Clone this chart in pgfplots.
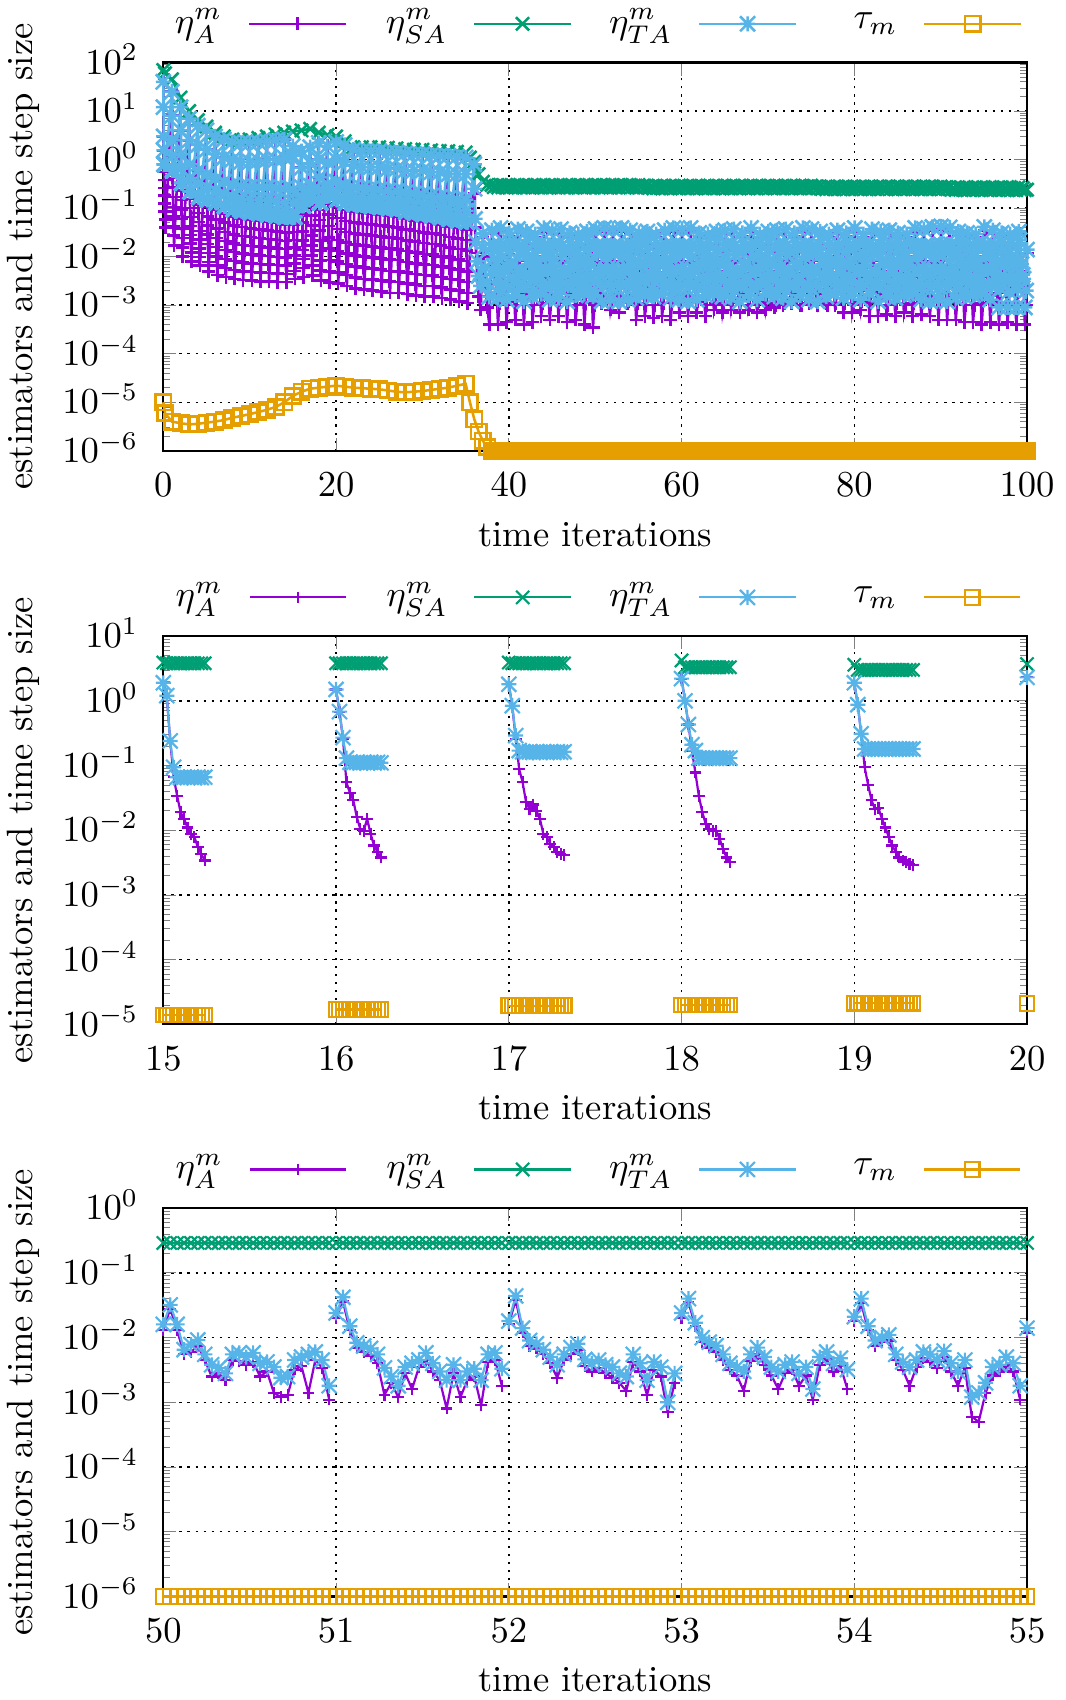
\documentclass[border=0pt]{standalone}
\usepackage{pgfplots}
\usepackage{pgfplotstable}
\pgfplotsset{compat=1.18}
\definecolor{cA}{HTML}{9400D3}
\definecolor{cSA}{HTML}{009E73}
\definecolor{cTA}{HTML}{56B4E9}
\definecolor{cT}{HTML}{E69F00}
\pgfdeclareplotmark{gpx}{%
  \pgfpathmoveto{\pgfqpoint{-\pgfplotmarksize}{-\pgfplotmarksize}}%
  \pgfpathlineto{\pgfqpoint{\pgfplotmarksize}{\pgfplotmarksize}}%
  \pgfpathmoveto{\pgfqpoint{-\pgfplotmarksize}{\pgfplotmarksize}}%
  \pgfpathlineto{\pgfqpoint{\pgfplotmarksize}{-\pgfplotmarksize}}%
  \pgfusepathqstroke}
\pgfdeclareplotmark{gpstar}{%
  \pgfpathmoveto{\pgfqpoint{-\pgfplotmarksize}{-\pgfplotmarksize}}%
  \pgfpathlineto{\pgfqpoint{\pgfplotmarksize}{\pgfplotmarksize}}%
  \pgfpathmoveto{\pgfqpoint{-\pgfplotmarksize}{\pgfplotmarksize}}%
  \pgfpathlineto{\pgfqpoint{\pgfplotmarksize}{-\pgfplotmarksize}}%
  \pgfpathmoveto{\pgfqpoint{-\pgfplotmarksize}{0pt}}%
  \pgfpathlineto{\pgfqpoint{\pgfplotmarksize}{0pt}}%
  \pgfpathmoveto{\pgfqpoint{0pt}{-\pgfplotmarksize}}%
  \pgfpathlineto{\pgfqpoint{0pt}{\pgfplotmarksize}}%
  \pgfusepathqstroke}

% panel 1: estimators A and TA (x A TA)
\pgfplotstableread{
x A TA
0 40 40
0.02 12 12
0.04 3 3
0.06 1.55 1.55
0.08 0.56 0.8
0.1 0.38 0.8
0.12 0.26 0.8
0.14 0.18 0.8
0.16 0.124 0.8
0.19 0.085 0.8
0.22 0.058 0.8
0.25 0.04 0.8
1 25 25
1.02 8 8
1.04 2.5 2.5
1.06 1.22 1.22
1.08 0.42 0.6
1.1 0.265 0.6
1.12 0.168 0.6
1.14 0.106 0.6
1.16 0.067 0.6
1.19 0.042 0.6
1.22 0.027 0.6
1.25 0.017 0.6
2 12 12
2.02 4 4
2.04 1.3 1.3
2.06 0.65 0.65
2.08 0.23 0.33
2.1 0.147 0.33
2.12 0.094 0.33
2.14 0.06 0.33
2.16 0.038 0.33
2.19 0.024 0.33
2.22 0.0156 0.33
2.25 0.01 0.33
3 7 7
3.02 2.5 2.5
3.04 0.8 0.8
3.06 0.42 0.42
3.08 0.154 0.22
3.1 0.1 0.22
3.12 0.066 0.22
3.14 0.043 0.22
3.16 0.028 0.22
3.19 0.0185 0.22
3.22 0.0121 0.22
3.25 0.008 0.22
4 5 5
4.02 2 2
4.04 0.6 0.6
4.06 0.32 0.32
4.08 0.119 0.17
4.1 0.079 0.17
4.12 0.052 0.17
4.14 0.034 0.17
4.16 0.0226 0.17
4.19 0.0149 0.17
4.22 0.0098 0.17
4.25 0.0065 0.17
5 4 4
5.02 1.6 1.6
5.04 0.5 0.5
5.06 0.27 0.27
5.08 0.105 0.15
5.1 0.068 0.15
5.12 0.044 0.15
5.14 0.0285 0.15
5.16 0.0184 0.15
5.19 0.0119 0.15
5.22 0.0077 0.15
5.25 0.005 0.15
6 3 3
6.02 1.3 1.3
6.04 0.4 0.4
6.06 0.23 0.23
6.08 0.091 0.13
6.1 0.059 0.13
6.12 0.038 0.13
6.14 0.0244 0.13
6.16 0.0157 0.13
6.19 0.0101 0.13
6.22 0.0065 0.13
6.25 0.0042 0.13
7 2.6 2.6
7.02 1.1 1.1
7.04 0.35 0.35
7.06 0.2 0.2
7.08 0.077 0.11
7.1 0.05 0.11
7.12 0.0325 0.11
7.14 0.0211 0.11
7.16 0.0137 0.11
7.19 0.0089 0.11
7.22 0.0058 0.11
7.25 0.0038 0.11
8 2.3 2.3
8.02 1 1
8.04 0.3 0.3
8.06 0.17 0.17
8.08 0.0665 0.095
8.1 0.0437 0.095
8.12 0.0287 0.095
8.14 0.0189 0.095
8.16 0.0124 0.095
8.19 0.0081 0.095
8.22 0.0053 0.095
8.25 0.0035 0.095
9 2.2 2.2
9.02 0.9 0.9
9.04 0.28 0.28
9.06 0.157 0.157
9.08 0.0616 0.088
9.1 0.0405 0.088
9.12 0.0267 0.088
9.14 0.0175 0.088
9.16 0.0115 0.088
9.19 0.0076 0.088
9.22 0.005 0.088
9.25 0.0033 0.088
10 2.2 2.2
10.02 0.9 0.9
10.04 0.27 0.27
10.06 0.149 0.149
10.08 0.0574 0.082
10.1 0.038 0.082
10.12 0.0252 0.082
10.14 0.0167 0.082
10.16 0.011 0.082
10.19 0.0073 0.082
10.22 0.0048 0.082
10.25 0.0032 0.082
11 2.3 2.3
11.02 0.95 0.95
11.04 0.27 0.27
11.06 0.145 0.145
11.08 0.0546 0.078
11.1 0.0363 0.078
11.12 0.0241 0.078
11.14 0.016 0.078
11.16 0.0106 0.078
11.19 0.007 0.078
11.22 0.0047 0.078
11.25 0.0031 0.078
12 2.4 2.4
12.02 1 1
12.04 0.27 0.27
12.06 0.141 0.141
12.08 0.0518 0.074
12.1 0.0346 0.074
12.12 0.0231 0.074
12.14 0.0154 0.074
12.16 0.0103 0.074
12.19 0.0069 0.074
12.22 0.0046 0.074
12.25 0.0031 0.074
13 2.5 2.5
13.02 1 1
13.04 0.26 0.26
13.06 0.135 0.135
13.08 0.049 0.07
13.1 0.0329 0.07
13.12 0.0221 0.07
13.14 0.0148 0.07
13.16 0.0099 0.07
13.19 0.0067 0.07
13.22 0.0045 0.07
13.25 0.003 0.07
14 2.6 2.6
14.02 1.1 1.1
14.04 0.25 0.25
14.06 0.128 0.128
14.08 0.0462 0.066
14.1 0.0313 0.066
14.12 0.0212 0.066
14.14 0.0143 0.066
14.16 0.0097 0.066
14.19 0.0066 0.066
14.22 0.0044 0.066
14.25 0.003 0.066
15 1.9 1.9
15.02 1.2 1.2
15.04 0.24 0.24
15.06 0.126 0.126
15.08 0.0462 0.066
15.1 0.032 0.066
15.12 0.0221 0.066
15.14 0.0153 0.066
15.16 0.0106 0.066
15.19 0.0073 0.066
15.22 0.0051 0.066
15.25 0.0035 0.066
16 1.5 1.5
16.02 0.68 0.68
16.04 0.27 0.27
16.06 0.174 0.174
16.08 0.078 0.112
16.1 0.0507 0.112
16.12 0.0329 0.112
16.14 0.0213 0.112
16.16 0.0138 0.112
16.19 0.009 0.112
16.22 0.0058 0.112
16.25 0.0038 0.112
17 1.8 1.8
17.02 0.84 0.84
17.04 0.29 0.29
17.06 0.217 0.217
17.08 0.114 0.163
17.1 0.071 0.163
17.12 0.044 0.163
17.14 0.0274 0.163
17.16 0.017 0.163
17.19 0.0106 0.163
17.22 0.0066 0.163
17.25 0.0041 0.163
18 2.2 2.2
18.02 1 1
18.04 0.43 0.43
18.06 0.236 0.236
18.08 0.091 0.13
18.1 0.0564 0.13
18.12 0.035 0.13
18.14 0.0217 0.13
18.16 0.0134 0.13
18.19 0.0083 0.13
18.22 0.0052 0.13
18.25 0.0032 0.13
19 1.9 1.9
19.02 0.87 0.87
19.04 0.31 0.31
19.06 0.236 0.236
19.08 0.126 0.18
19.1 0.0735 0.18
19.12 0.0429 0.18
19.14 0.025 0.18
19.16 0.0146 0.18
19.19 0.0085 0.18
19.22 0.005 0.18
19.25 0.0029 0.18
20 2.3 2.3
20.02 1 1
20.04 0.35 0.35
20.06 0.23 0.23
20.08 0.105 0.15
20.1 0.0626 0.15
20.12 0.0373 0.15
20.14 0.0222 0.15
20.16 0.0132 0.15
20.19 0.0079 0.15
20.22 0.0047 0.15
20.25 0.0028 0.15
21 2 2
21.02 0.9 0.9
21.04 0.3 0.3
21.06 0.197 0.197
21.08 0.091 0.13
21.1 0.0544 0.13
21.12 0.0325 0.13
21.14 0.0195 0.13
21.16 0.0116 0.13
21.19 0.007 0.13
21.22 0.0042 0.13
21.25 0.0025 0.13
22 1.6 1.6
22.02 0.75 0.75
22.04 0.27 0.27
22.06 0.18 0.18
22.08 0.084 0.12
22.1 0.05 0.12
22.12 0.0297 0.12
22.14 0.0176 0.12
22.16 0.0105 0.12
22.19 0.0062 0.12
22.22 0.0037 0.12
22.25 0.0022 0.12
23 1.5 1.5
23.02 0.7 0.7
23.04 0.26 0.26
23.06 0.173 0.173
23.08 0.0805 0.115
23.1 0.0478 0.115
23.12 0.0284 0.115
23.14 0.0169 0.115
23.16 0.01 0.115
23.19 0.006 0.115
23.22 0.0035 0.115
23.25 0.0021 0.115
24 1.5 1.5
24.02 0.7 0.7
24.04 0.25 0.25
24.06 0.166 0.166
24.08 0.077 0.11
24.1 0.0457 0.11
24.12 0.0272 0.11
24.14 0.0161 0.11
24.16 0.0096 0.11
24.19 0.0057 0.11
24.22 0.0034 0.11
24.25 0.002 0.11
25 1.5 1.5
25.02 0.7 0.7
25.04 0.24 0.24
25.06 0.159 0.159
25.08 0.0735 0.105
25.1 0.0437 0.105
25.12 0.026 0.105
25.14 0.0154 0.105
25.16 0.0092 0.105
25.19 0.0054 0.105
25.22 0.0032 0.105
25.25 0.0019 0.105
26 1.4 1.4
26.02 0.65 0.65
26.04 0.23 0.23
26.06 0.152 0.152
26.08 0.07 0.1
26.1 0.0415 0.1
26.12 0.0246 0.1
26.14 0.0146 0.1
26.16 0.0087 0.1
26.19 0.0051 0.1
26.22 0.0031 0.1
26.25 0.0018 0.1
27 1.4 1.4
27.02 0.65 0.65
27.04 0.22 0.22
27.06 0.145 0.145
27.08 0.0665 0.095
27.1 0.0397 0.095
27.12 0.0237 0.095
27.14 0.0142 0.095
27.16 0.0085 0.095
27.19 0.005 0.095
27.22 0.003 0.095
27.25 0.0018 0.095
28 1.35 1.35
28.02 0.6 0.6
28.04 0.21 0.21
28.06 0.134 0.134
28.08 0.0595 0.085
28.1 0.0358 0.085
28.12 0.0215 0.085
28.14 0.013 0.085
28.16 0.0078 0.085
28.19 0.0047 0.085
28.22 0.0028 0.085
28.25 0.0017 0.085
29 1.3 1.3
29.02 0.6 0.6
29.04 0.2 0.2
29.06 0.126 0.126
29.08 0.056 0.08
29.1 0.0337 0.08
29.12 0.0203 0.08
29.14 0.0122 0.08
29.16 0.0073 0.08
29.19 0.0044 0.08
29.22 0.0027 0.08
29.25 0.0016 0.08
30 1.3 1.3
30.02 0.6 0.6
30.04 0.19 0.19
30.06 0.119 0.119
30.08 0.0525 0.075
30.1 0.0316 0.075
30.12 0.019 0.075
30.14 0.0114 0.075
30.16 0.0069 0.075
30.19 0.0042 0.075
30.22 0.0025 0.075
30.25 0.0015 0.075
31 1.25 1.25
31.02 0.55 0.55
31.04 0.18 0.18
31.06 0.112 0.112
31.08 0.049 0.07
31.1 0.0298 0.07
31.12 0.0181 0.07
31.14 0.011 0.07
31.16 0.0067 0.07
31.19 0.0041 0.07
31.22 0.0025 0.07
31.25 0.0015 0.07
32 1.2 1.2
32.02 0.55 0.55
32.04 0.17 0.17
32.06 0.105 0.105
32.08 0.0455 0.065
32.1 0.0277 0.065
32.12 0.0168 0.065
32.14 0.0102 0.065
32.16 0.0062 0.065
32.19 0.0038 0.065
32.22 0.0023 0.065
32.25 0.0014 0.065
33 1.2 1.2
33.02 0.5 0.5
33.04 0.16 0.16
33.06 0.098 0.098
33.08 0.042 0.06
33.1 0.0256 0.06
33.12 0.0156 0.06
33.14 0.0095 0.06
33.16 0.0058 0.06
33.19 0.0035 0.06
33.22 0.0021 0.06
33.25 0.0013 0.06
34 1.15 1.15
34.02 0.5 0.5
34.04 0.15 0.15
34.06 0.092 0.092
34.08 0.0392 0.056
34.1 0.0238 0.056
34.12 0.0145 0.056
34.14 0.0088 0.056
34.16 0.0054 0.056
34.19 0.0033 0.056
34.22 0.002 0.056
34.25 0.0012 0.056
35 1.1 1.1
35.02 0.5 0.5
35.04 0.15 0.15
35.06 0.088 0.088
35.08 0.0364 0.052
35.1 0.0221 0.052
35.12 0.0134 0.052
35.14 0.0081 0.052
35.16 0.0049 0.052
35.19 0.003 0.052
35.22 0.0018 0.052
35.25 0.0011 0.052
36 0.8 0.8
36.05 0.2 0.25
36.1 0.04 0.06
36.2 0.012 0.02
36.35 0.004 0.008
36.5 0.0015 0.004
36.75 0.0008 0.0025
37 0.025 0.03
37.05 0.01 0.015
37.25 0.003 0.006
37.5 0.0009 0.003
37.75 0.0004 0.0015
38 0.013 0.015
38.05 0.03 0.035
38.15 0.014 0.018
38.25 0.0068 0.009
38.35 0.0042 0.006
38.5 0.0027 0.0045
38.6 0.0018 0.003
38.75 0.0004 0.0014
38.9 0.0011 0.0022
39 0.014 0.017
39.05 0.033 0.039
39.15 0.013 0.016
39.25 0.0075 0.01
39.35 0.0038 0.0055
39.5 0.003 0.005
39.6 0.0016 0.0027
39.75 0.00045 0.0013
39.9 0.0012 0.0024
40 0.011 0.013
40.05 0.026 0.031
40.15 0.016 0.02
40.25 0.0056 0.0075
40.35 0.0045 0.0065
40.5 0.0023 0.0038
40.6 0.0019 0.0032
40.75 0.0005 0.0016
40.9 0.001 0.0019
41 0.014 0.016
41.05 0.031 0.037
41.15 0.014 0.017
41.25 0.0082 0.011
41.35 0.0035 0.005
41.5 0.0029 0.0048
41.6 0.0017 0.0028
41.75 0.0004 0.0012
41.9 0.0013 0.0025
42 0.012 0.014
42.05 0.028 0.033
42.15 0.018 0.022
42.25 0.0064 0.0085
42.35 0.0049 0.007
42.5 0.0025 0.0042
42.6 0.0021 0.0035
42.75 0.00045 0.0015
42.9 0.001 0.002
43 0.01 0.012
43.05 0.025 0.029
43.15 0.015 0.019
43.25 0.006 0.008
43.35 0.0048 0.0068
43.5 0.0024 0.004
43.6 0.002 0.0033
43.75 0.0006 0.0017
43.9 0.0011 0.0021
44 0.014 0.017
44.05 0.033 0.039
44.15 0.013 0.016
44.25 0.0075 0.01
44.35 0.0038 0.0055
44.5 0.003 0.005
44.6 0.0016 0.0027
44.75 0.0005 0.0013
44.9 0.0012 0.0024
45 0.013 0.015
45.05 0.03 0.035
45.15 0.014 0.018
45.25 0.0068 0.009
45.35 0.0042 0.006
45.5 0.0027 0.0045
45.6 0.0018 0.003
45.75 0.0006 0.0014
45.9 0.0011 0.0022
46 0.014 0.016
46.05 0.031 0.037
46.15 0.014 0.017
46.25 0.0082 0.011
46.35 0.0035 0.005
46.5 0.0029 0.0048
46.6 0.0017 0.0028
46.75 0.00045 0.0012
46.9 0.0013 0.0025
47 0.011 0.013
47.05 0.026 0.031
47.15 0.016 0.02
47.25 0.0056 0.0075
47.35 0.0045 0.0065
47.5 0.0023 0.0038
47.6 0.0019 0.0032
47.75 0.0005 0.0016
47.9 0.001 0.0019
48 0.01 0.012
48.05 0.025 0.029
48.15 0.015 0.019
48.25 0.006 0.008
48.35 0.0048 0.0068
48.5 0.0024 0.004
48.6 0.002 0.0033
48.75 0.0004 0.0017
48.9 0.0011 0.0021
49 0.012 0.014
49.05 0.028 0.033
49.15 0.018 0.022
49.25 0.0064 0.0085
49.35 0.0049 0.007
49.5 0.0025 0.0042
49.6 0.0021 0.0035
49.75 0.00035 0.0015
49.9 0.001 0.002
50 0.014 0.016
50.05 0.031 0.037
50.15 0.014 0.017
50.25 0.0082 0.011
50.35 0.0035 0.005
50.5 0.0029 0.0048
50.6 0.0017 0.0028
50.75 0.0011 0.0012
50.9 0.0013 0.0025
51 0.014 0.017
51.05 0.033 0.039
51.15 0.013 0.016
51.25 0.0075 0.01
51.35 0.0038 0.0055
51.5 0.003 0.005
51.6 0.0016 0.0027
51.75 0.0008 0.0013
51.9 0.0012 0.0024
52 0.014 0.016
52.05 0.031 0.037
52.15 0.014 0.017
52.25 0.0082 0.011
52.35 0.0035 0.005
52.5 0.0029 0.0048
52.6 0.0017 0.0028
52.75 0.0007 0.0012
52.9 0.0013 0.0025
53 0.014 0.017
53.05 0.033 0.039
53.15 0.013 0.016
53.25 0.0075 0.01
53.35 0.0038 0.0055
53.5 0.003 0.005
53.6 0.0016 0.0027
53.75 0.0011 0.0013
53.9 0.0012 0.0024
54 0.013 0.015
54.05 0.03 0.035
54.15 0.014 0.018
54.25 0.0068 0.009
54.35 0.0042 0.006
54.5 0.0027 0.0045
54.6 0.0018 0.003
54.75 0.0005 0.0014
54.9 0.0011 0.0022
55 0.011 0.013
55.05 0.026 0.031
55.15 0.016 0.02
55.25 0.0056 0.0075
55.35 0.0045 0.0065
55.5 0.0023 0.0038
55.6 0.0019 0.0032
55.75 0.0006 0.0016
55.9 0.001 0.0019
56 0.012 0.014
56.05 0.028 0.033
56.15 0.018 0.022
56.25 0.0064 0.0085
56.35 0.0049 0.007
56.5 0.0025 0.0042
56.6 0.0021 0.0035
56.75 0.00055 0.0015
56.9 0.001 0.002
57 0.01 0.012
57.05 0.025 0.029
57.15 0.015 0.019
57.25 0.006 0.008
57.35 0.0048 0.0068
57.5 0.0024 0.004
57.6 0.002 0.0033
57.75 0.0006 0.0017
57.9 0.0011 0.0021
58 0.013 0.015
58.05 0.03 0.035
58.15 0.014 0.018
58.25 0.0068 0.009
58.35 0.0042 0.006
58.5 0.0027 0.0045
58.6 0.0018 0.003
58.75 0.0005 0.0014
58.9 0.0011 0.0022
59 0.014 0.017
59.05 0.033 0.039
59.15 0.013 0.016
59.25 0.0075 0.01
59.35 0.0038 0.0055
59.5 0.003 0.005
59.6 0.0016 0.0027
59.75 0.0007 0.0013
59.9 0.0012 0.0024
60 0.014 0.016
60.05 0.031 0.037
60.15 0.014 0.017
60.25 0.0082 0.011
60.35 0.0035 0.005
60.5 0.0029 0.0048
60.6 0.0017 0.0028
60.75 0.0006 0.0012
60.9 0.0013 0.0025
61 0.014 0.017
61.05 0.033 0.039
61.15 0.013 0.016
61.25 0.0075 0.01
61.35 0.0038 0.0055
61.5 0.003 0.005
61.6 0.0016 0.0027
61.75 0.0007 0.0013
61.9 0.0012 0.0024
62 0.011 0.013
62.05 0.026 0.031
62.15 0.016 0.02
62.25 0.0056 0.0075
62.35 0.0045 0.0065
62.5 0.0023 0.0038
62.6 0.0019 0.0032
62.75 0.0006 0.0016
62.9 0.001 0.0019
63 0.01 0.012
63.05 0.025 0.029
63.15 0.015 0.019
63.25 0.006 0.008
63.35 0.0048 0.0068
63.5 0.0024 0.004
63.6 0.002 0.0033
63.75 0.0008 0.0017
63.9 0.0011 0.0021
64 0.012 0.014
64.05 0.028 0.033
64.15 0.018 0.022
64.25 0.0064 0.0085
64.35 0.0049 0.007
64.5 0.0025 0.0042
64.6 0.0021 0.0035
64.75 0.0007 0.0015
64.9 0.001 0.002
65 0.013 0.015
65.05 0.03 0.035
65.15 0.014 0.018
65.25 0.0068 0.009
65.35 0.0042 0.006
65.5 0.0027 0.0045
65.6 0.0018 0.003
65.75 0.0008 0.0014
65.9 0.0011 0.0022
66 0.014 0.016
66.05 0.031 0.037
66.15 0.014 0.017
66.25 0.0082 0.011
66.35 0.0035 0.005
66.5 0.0029 0.0048
66.6 0.0017 0.0028
66.75 0.0007 0.0012
66.9 0.0013 0.0025
67 0.011 0.013
67.05 0.026 0.031
67.15 0.016 0.02
67.25 0.0056 0.0075
67.35 0.0045 0.0065
67.5 0.0023 0.0038
67.6 0.0019 0.0032
67.75 0.0008 0.0016
67.9 0.001 0.0019
68 0.014 0.017
68.05 0.033 0.039
68.15 0.013 0.016
68.25 0.0075 0.01
68.35 0.0038 0.0055
68.5 0.003 0.005
68.6 0.0016 0.0027
68.75 0.0007 0.0013
68.9 0.0012 0.0024
69 0.01 0.012
69.05 0.025 0.029
69.15 0.015 0.019
69.25 0.006 0.008
69.35 0.0048 0.0068
69.5 0.0024 0.004
69.6 0.002 0.0033
69.75 0.0008 0.0017
69.9 0.0011 0.0021
70 0.012 0.014
70.05 0.028 0.033
70.15 0.018 0.022
70.25 0.0064 0.0085
70.35 0.0049 0.007
70.5 0.0025 0.0042
70.6 0.0021 0.0035
70.75 0.0009 0.0015
70.9 0.001 0.002
71 0.013 0.015
71.05 0.03 0.035
71.15 0.014 0.018
71.25 0.0068 0.009
71.35 0.0042 0.006
71.5 0.0027 0.0045
71.6 0.0018 0.003
71.75 0.001 0.0014
71.9 0.0011 0.0022
72 0.014 0.016
72.05 0.031 0.037
72.15 0.014 0.017
72.25 0.0082 0.011
72.35 0.0035 0.005
72.5 0.0029 0.0048
72.6 0.0017 0.0028
72.75 0.0011 0.0012
72.9 0.0013 0.0025
73 0.011 0.013
73.05 0.026 0.031
73.15 0.016 0.02
73.25 0.0056 0.0075
73.35 0.0045 0.0065
73.5 0.0023 0.0038
73.6 0.0019 0.0032
73.75 0.001 0.0016
73.9 0.001 0.0019
74 0.014 0.017
74.05 0.033 0.039
74.15 0.013 0.016
74.25 0.0075 0.01
74.35 0.0038 0.0055
74.5 0.003 0.005
74.6 0.0016 0.0027
74.75 0.0011 0.0013
74.9 0.0012 0.0024
75 0.014 0.016
75.05 0.031 0.037
75.15 0.014 0.017
75.25 0.0082 0.011
75.35 0.0035 0.005
75.5 0.0029 0.0048
75.6 0.0017 0.0028
75.75 0.001 0.0012
75.9 0.0013 0.0025
76 0.012 0.014
76.05 0.028 0.033
76.15 0.018 0.022
76.25 0.0064 0.0085
76.35 0.0049 0.007
76.5 0.0025 0.0042
76.6 0.0021 0.0035
76.75 0.0011 0.0015
76.9 0.001 0.002
77 0.01 0.012
77.05 0.025 0.029
77.15 0.015 0.019
77.25 0.006 0.008
77.35 0.0048 0.0068
77.5 0.0024 0.004
77.6 0.002 0.0033
77.75 0.001 0.0017
77.9 0.0011 0.0021
78 0.013 0.015
78.05 0.03 0.035
78.15 0.014 0.018
78.25 0.0068 0.009
78.35 0.0042 0.006
78.5 0.0027 0.0045
78.6 0.0018 0.003
78.75 0.0007 0.0014
78.9 0.0011 0.0022
79 0.011 0.013
79.05 0.026 0.031
79.15 0.016 0.02
79.25 0.0056 0.0075
79.35 0.0045 0.0065
79.5 0.0023 0.0038
79.6 0.0019 0.0032
79.75 0.0007 0.0016
79.9 0.001 0.0019
80 0.014 0.017
80.05 0.033 0.039
80.15 0.013 0.016
80.25 0.0075 0.01
80.35 0.0038 0.0055
80.5 0.003 0.005
80.6 0.0016 0.0027
80.75 0.0008 0.0013
80.9 0.0012 0.0024
81 0.01 0.012
81.05 0.025 0.029
81.15 0.015 0.019
81.25 0.006 0.008
81.35 0.0048 0.0068
81.5 0.0024 0.004
81.6 0.002 0.0033
81.75 0.0006 0.0017
81.9 0.0011 0.0021
82 0.014 0.016
82.05 0.031 0.037
82.15 0.014 0.017
82.25 0.0082 0.011
82.35 0.0035 0.005
82.5 0.0029 0.0048
82.6 0.0017 0.0028
82.75 0.0006 0.0012
82.9 0.0013 0.0025
83 0.012 0.014
83.05 0.028 0.033
83.15 0.018 0.022
83.25 0.0064 0.0085
83.35 0.0049 0.007
83.5 0.0025 0.0042
83.6 0.0021 0.0035
83.75 0.00065 0.0015
83.9 0.001 0.002
84 0.013 0.015
84.05 0.03 0.035
84.15 0.014 0.018
84.25 0.0068 0.009
84.35 0.0042 0.006
84.5 0.0027 0.0045
84.6 0.0018 0.003
84.75 0.0006 0.0014
84.9 0.0011 0.0022
85 0.011 0.013
85.05 0.026 0.031
85.15 0.016 0.02
85.25 0.0056 0.0075
85.35 0.0045 0.0065
85.5 0.0023 0.0038
85.6 0.0019 0.0032
85.75 0.0007 0.0016
85.9 0.001 0.0019
86 0.01 0.012
86.05 0.025 0.029
86.15 0.015 0.019
86.25 0.006 0.008
86.35 0.0048 0.0068
86.5 0.0024 0.004
86.6 0.002 0.0033
86.75 0.0006 0.0017
86.9 0.0011 0.0021
87 0.014 0.017
87.05 0.033 0.039
87.15 0.013 0.016
87.25 0.0075 0.01
87.35 0.0038 0.0055
87.5 0.003 0.005
87.6 0.0016 0.0027
87.75 0.00065 0.0013
87.9 0.0012 0.0024
88 0.014 0.016
88.05 0.031 0.037
88.15 0.014 0.017
88.25 0.0082 0.011
88.35 0.0035 0.005
88.5 0.0029 0.0048
88.6 0.0017 0.0028
88.75 0.0006 0.0012
88.9 0.0013 0.0025
89 0.014 0.017
89.05 0.035 0.041
89.15 0.013 0.016
89.25 0.0075 0.01
89.35 0.0038 0.0055
89.5 0.003 0.005
89.6 0.0016 0.0027
89.75 0.0005 0.0013
89.9 0.0012 0.0024
90 0.015 0.018
90.05 0.036 0.042
90.15 0.014 0.017
90.25 0.0082 0.011
90.35 0.0035 0.005
90.5 0.0029 0.0048
90.6 0.0017 0.0028
90.75 0.0005 0.0012
90.9 0.0013 0.0025
91 0.013 0.015
91.05 0.034 0.04
91.15 0.014 0.018
91.25 0.0068 0.009
91.35 0.0042 0.006
91.5 0.0027 0.0045
91.6 0.0018 0.003
91.75 0.0005 0.0014
91.9 0.0011 0.0022
92 0.012 0.014
92.05 0.028 0.033
92.15 0.018 0.022
92.25 0.0064 0.0085
92.35 0.0049 0.007
92.5 0.0025 0.0042
92.6 0.0021 0.0035
92.75 0.00045 0.0015
92.9 0.001 0.002
93 0.011 0.013
93.05 0.026 0.031
93.15 0.016 0.02
93.25 0.0056 0.0075
93.35 0.0045 0.0065
93.5 0.0023 0.0038
93.6 0.0019 0.0032
93.75 0.00045 0.0016
93.9 0.001 0.0019
94 0.01 0.012
94.05 0.025 0.029
94.15 0.015 0.019
94.25 0.006 0.008
94.35 0.0048 0.0068
94.5 0.0024 0.004
94.6 0.002 0.0033
94.75 0.0004 0.0017
94.9 0.0011 0.0021
95 0.014 0.017
95.05 0.035 0.041
95.15 0.013 0.016
95.25 0.0075 0.01
95.35 0.0038 0.0055
95.5 0.003 0.005
95.6 0.0016 0.0027
95.75 0.00045 0.0013
95.9 0.0012 0.0024
96 0.013 0.015
96.05 0.03 0.035
96.15 0.014 0.018
96.25 0.0068 0.009
96.35 0.0042 0.006
96.5 0.0027 0.0045
96.6 0.0018 0.003
96.75 0.0004 0.0009
96.9 0.0011 0.0022
97 0.011 0.013
97.05 0.026 0.031
97.15 0.016 0.02
97.25 0.0056 0.0075
97.35 0.0045 0.0065
97.5 0.0023 0.0038
97.6 0.0019 0.0032
97.75 0.00045 0.0009
97.9 0.001 0.0019
98 0.01 0.012
98.05 0.025 0.029
98.15 0.015 0.019
98.25 0.006 0.008
98.35 0.0048 0.0068
98.5 0.0024 0.004
98.6 0.002 0.0033
98.75 0.0004 0.0009
98.9 0.0011 0.0021
99 0.012 0.014
99.05 0.028 0.033
99.15 0.018 0.022
99.25 0.0064 0.0085
99.35 0.0049 0.007
99.5 0.0025 0.0042
99.6 0.0021 0.0035
99.75 0.0004 0.0009
99.9 0.001 0.002
100 0.012 0.014
}\Pa

% panel 1: SA and tau (x S T)
\pgfplotstableread{
x S T
0 70 1e-5
0.2 60 6e-6
1 45 4e-6
2 19 3.7e-6
3 10 3.5e-6
4 6.5 3.6e-6
5 4.8 3.8e-6
6 3.6 4e-6
7 3 4.3e-6
8 2.6 4.8e-6
9 2.5 5.2e-6
10 2.6 5.7e-6
11 2.8 6.3e-6
12 3 7e-6
13 3.3 8e-6
14 3.6 1e-5
15 3.8 1.35e-5
16 4 1.65e-5
17 4.3 1.9e-5
18 3.6 2e-5
19 3.2 2.1e-5
20 3 2.2e-5
21 2.4 2.1e-5
22 1.8 2e-5
23 1.8 1.95e-5
24 1.8 1.9e-5
25 1.8 1.85e-5
26 1.75 1.75e-5
27 1.7 1.65e-5
28 1.65 1.6e-5
29 1.6 1.65e-5
30 1.6 1.7e-5
31 1.55 1.8e-5
32 1.5 1.9e-5
33 1.5 2e-5
34 1.45 2.2e-5
35 1.4 2.4e-5
35.5 1.1 1e-5
36 0.9 4.5e-6
36.5 0.5 2.5e-6
37 0.35 1.6e-6
37.5 0.3 1.2e-6
38 0.3 1e-6
38.25 0.27 1e-6
38.5 0.29 1e-6
38.75 0.265 1e-6
39 0.3 1e-6
39.25 0.27 1e-6
39.5 0.29 1e-6
39.75 0.265 1e-6
40 0.3 1e-6
40.25 0.27 1e-6
40.5 0.29 1e-6
40.75 0.265 1e-6
41 0.3 1e-6
41.25 0.27 1e-6
41.5 0.29 1e-6
41.75 0.265 1e-6
42 0.3 1e-6
42.25 0.27 1e-6
42.5 0.29 1e-6
42.75 0.265 1e-6
43 0.3 1e-6
43.25 0.27 1e-6
43.5 0.29 1e-6
43.75 0.265 1e-6
44 0.3 1e-6
44.25 0.27 1e-6
44.5 0.29 1e-6
44.75 0.265 1e-6
45 0.3 1e-6
45.25 0.27 1e-6
45.5 0.29 1e-6
45.75 0.265 1e-6
46 0.3 1e-6
46.25 0.27 1e-6
46.5 0.29 1e-6
46.75 0.265 1e-6
47 0.3 1e-6
47.25 0.27 1e-6
47.5 0.29 1e-6
47.75 0.265 1e-6
48 0.3 1e-6
48.25 0.27 1e-6
48.5 0.29 1e-6
48.75 0.265 1e-6
49 0.3 1e-6
49.25 0.27 1e-6
49.5 0.29 1e-6
49.75 0.265 1e-6
50 0.3 1e-6
50.25 0.27 1e-6
50.5 0.29 1e-6
50.75 0.265 1e-6
51 0.3 1e-6
51.25 0.27 1e-6
51.5 0.29 1e-6
51.75 0.265 1e-6
52 0.3 1e-6
52.25 0.27 1e-6
52.5 0.29 1e-6
52.75 0.265 1e-6
53 0.3 1e-6
53.25 0.27 1e-6
53.5 0.29 1e-6
53.75 0.265 1e-6
54 0.3 1e-6
54.25 0.27 1e-6
54.5 0.29 1e-6
54.75 0.265 1e-6
55 0.3 1e-6
55.25 0.27 1e-6
55.5 0.29 1e-6
55.75 0.265 1e-6
56 0.29 1e-6
56.25 0.26 1e-6
56.5 0.28 1e-6
56.75 0.255 1e-6
57 0.29 1e-6
57.25 0.26 1e-6
57.5 0.28 1e-6
57.75 0.255 1e-6
58 0.29 1e-6
58.25 0.26 1e-6
58.5 0.28 1e-6
58.75 0.255 1e-6
59 0.29 1e-6
59.25 0.26 1e-6
59.5 0.28 1e-6
59.75 0.255 1e-6
60 0.29 1e-6
60.25 0.26 1e-6
60.5 0.28 1e-6
60.75 0.255 1e-6
61 0.29 1e-6
61.25 0.26 1e-6
61.5 0.28 1e-6
61.75 0.255 1e-6
62 0.29 1e-6
62.25 0.26 1e-6
62.5 0.28 1e-6
62.75 0.255 1e-6
63 0.29 1e-6
63.25 0.26 1e-6
63.5 0.28 1e-6
63.75 0.255 1e-6
64 0.29 1e-6
64.25 0.26 1e-6
64.5 0.28 1e-6
64.75 0.255 1e-6
65 0.29 1e-6
65.25 0.26 1e-6
65.5 0.28 1e-6
65.75 0.255 1e-6
66 0.29 1e-6
66.25 0.26 1e-6
66.5 0.28 1e-6
66.75 0.255 1e-6
67 0.29 1e-6
67.25 0.26 1e-6
67.5 0.28 1e-6
67.75 0.255 1e-6
68 0.29 1e-6
68.25 0.26 1e-6
68.5 0.28 1e-6
68.75 0.255 1e-6
69 0.29 1e-6
69.25 0.26 1e-6
69.5 0.28 1e-6
69.75 0.255 1e-6
70 0.29 1e-6
70.25 0.26 1e-6
70.5 0.28 1e-6
70.75 0.255 1e-6
71 0.29 1e-6
71.25 0.26 1e-6
71.5 0.28 1e-6
71.75 0.255 1e-6
72 0.29 1e-6
72.25 0.26 1e-6
72.5 0.28 1e-6
72.75 0.255 1e-6
73 0.29 1e-6
73.25 0.26 1e-6
73.5 0.28 1e-6
73.75 0.255 1e-6
74 0.29 1e-6
74.25 0.26 1e-6
74.5 0.28 1e-6
74.75 0.255 1e-6
75 0.29 1e-6
75.25 0.26 1e-6
75.5 0.28 1e-6
75.75 0.255 1e-6
76 0.28 1e-6
76.25 0.25 1e-6
76.5 0.27 1e-6
76.75 0.245 1e-6
77 0.28 1e-6
77.25 0.25 1e-6
77.5 0.27 1e-6
77.75 0.245 1e-6
78 0.28 1e-6
78.25 0.25 1e-6
78.5 0.27 1e-6
78.75 0.245 1e-6
79 0.28 1e-6
79.25 0.25 1e-6
79.5 0.27 1e-6
79.75 0.245 1e-6
80 0.28 1e-6
80.25 0.25 1e-6
80.5 0.27 1e-6
80.75 0.245 1e-6
81 0.28 1e-6
81.25 0.25 1e-6
81.5 0.27 1e-6
81.75 0.245 1e-6
82 0.28 1e-6
82.25 0.25 1e-6
82.5 0.27 1e-6
82.75 0.245 1e-6
83 0.28 1e-6
83.25 0.25 1e-6
83.5 0.27 1e-6
83.75 0.245 1e-6
84 0.28 1e-6
84.25 0.25 1e-6
84.5 0.27 1e-6
84.75 0.245 1e-6
85 0.28 1e-6
85.25 0.25 1e-6
85.5 0.27 1e-6
85.75 0.245 1e-6
86 0.28 1e-6
86.25 0.25 1e-6
86.5 0.27 1e-6
86.75 0.245 1e-6
87 0.28 1e-6
87.25 0.25 1e-6
87.5 0.27 1e-6
87.75 0.245 1e-6
88 0.28 1e-6
88.25 0.25 1e-6
88.5 0.27 1e-6
88.75 0.245 1e-6
89 0.28 1e-6
89.25 0.25 1e-6
89.5 0.27 1e-6
89.75 0.245 1e-6
90 0.28 1e-6
90.25 0.25 1e-6
90.5 0.27 1e-6
90.75 0.245 1e-6
91 0.27 1e-6
91.25 0.24 1e-6
91.5 0.26 1e-6
91.75 0.235 1e-6
92 0.27 1e-6
92.25 0.24 1e-6
92.5 0.26 1e-6
92.75 0.235 1e-6
93 0.27 1e-6
93.25 0.24 1e-6
93.5 0.26 1e-6
93.75 0.235 1e-6
94 0.27 1e-6
94.25 0.24 1e-6
94.5 0.26 1e-6
94.75 0.235 1e-6
95 0.27 1e-6
95.25 0.24 1e-6
95.5 0.26 1e-6
95.75 0.235 1e-6
96 0.27 1e-6
96.25 0.24 1e-6
96.5 0.26 1e-6
96.75 0.235 1e-6
97 0.27 1e-6
97.25 0.24 1e-6
97.5 0.26 1e-6
97.75 0.235 1e-6
98 0.27 1e-6
98.25 0.24 1e-6
98.5 0.26 1e-6
98.75 0.235 1e-6
99 0.27 1e-6
99.25 0.24 1e-6
99.5 0.26 1e-6
99.75 0.235 1e-6
100 0.24 1e-6
}\Pb

% panel 2 (x A S TA T), nan rows separate time steps
\pgfplotstableread{
x A S TA T
15 1.9 3.9 1.9 1.4e-5
15.02 1.2 3.8 1.2 1.4e-5
15.04 0.24 3.8 0.24 1.4e-5
15.06 0.066 3.8 0.094 1.4e-5
15.08 0.034 3.8 0.066 1.4e-5
15.1 0.019 3.8 0.065 1.4e-5
15.12 0.015 3.8 0.066 1.4e-5
15.14 0.011 3.8 0.065 1.4e-5
15.16 0.0088 3.8 0.066 1.4e-5
15.18 0.0078 3.8 0.065 1.4e-5
15.2 0.0055 3.8 0.066 1.4e-5
15.22 0.0043 3.8 0.065 1.4e-5
15.24 0.0034 3.8 0.066 1.4e-5
nan nan nan nan nan
16 1.5 3.8 1.5 1.7e-5
16.02 0.68 3.8 0.68 1.7e-5
16.04 0.26 3.8 0.27 1.7e-5
16.06 0.055 3.8 0.13 1.7e-5
16.08 0.038 3.8 0.112 1.7e-5
16.1 0.029 3.8 0.11 1.7e-5
16.12 0.016 3.8 0.112 1.7e-5
16.14 0.0105 3.8 0.11 1.7e-5
16.16 0.0098 3.8 0.112 1.7e-5
16.18 0.015 3.8 0.11 1.7e-5
16.2 0.0088 3.8 0.112 1.7e-5
16.22 0.0058 3.8 0.11 1.7e-5
16.24 0.0046 3.8 0.112 1.7e-5
16.26 0.0038 3.8 0.11 1.7e-5
nan nan nan nan nan
17 1.8 3.9 1.8 1.95e-5
17.02 0.84 3.8 0.84 1.95e-5
17.04 0.26 3.8 0.29 1.95e-5
17.06 0.088 3.8 0.17 1.95e-5
17.08 0.055 3.8 0.163 1.95e-5
17.1 0.027 3.8 0.16 1.95e-5
17.12 0.021 3.8 0.163 1.95e-5
17.14 0.025 3.8 0.16 1.95e-5
17.16 0.02 3.8 0.163 1.95e-5
17.18 0.015 3.8 0.16 1.95e-5
17.2 0.0088 3.8 0.163 1.95e-5
17.22 0.0078 3.8 0.16 1.95e-5
17.24 0.0062 3.8 0.163 1.95e-5
17.26 0.0055 3.8 0.16 1.95e-5
17.28 0.0046 3.8 0.163 1.95e-5
17.3 0.0043 3.8 0.16 1.95e-5
17.32 0.0041 3.8 0.163 1.95e-5
nan nan nan nan nan
18 2.2 4.2 2.2 2e-5
18.02 1 3.3 1 2e-5
18.04 0.43 3.3 0.43 2e-5
18.06 0.17 3.3 0.21 2e-5
18.08 0.078 3.3 0.17 2e-5
18.1 0.034 3.3 0.13 2e-5
18.12 0.019 3.3 0.13 2e-5
18.14 0.0125 3.3 0.13 2e-5
18.16 0.0105 3.3 0.13 2e-5
18.18 0.0098 3.3 0.13 2e-5
18.2 0.0098 3.3 0.13 2e-5
18.22 0.0074 3.3 0.13 2e-5
18.24 0.0052 3.3 0.13 2e-5
18.26 0.0038 3.3 0.13 2e-5
18.28 0.0032 3.3 0.13 2e-5
nan nan nan nan nan
19 1.9 3.6 1.9 2.13e-5
19.02 0.87 3 0.87 2.13e-5
19.04 0.31 3 0.31 2.13e-5
19.06 0.094 3 0.18 2.13e-5
19.08 0.05 3 0.18 2.13e-5
19.1 0.029 3 0.18 2.13e-5
19.12 0.021 3 0.18 2.13e-5
19.14 0.022 3 0.18 2.13e-5
19.16 0.015 3 0.18 2.13e-5
19.18 0.011 3 0.18 2.13e-5
19.2 0.0078 3 0.18 2.13e-5
19.22 0.0058 3 0.18 2.13e-5
19.24 0.0046 3 0.18 2.13e-5
19.26 0.0038 3 0.18 2.13e-5
19.28 0.0034 3 0.18 2.13e-5
19.3 0.0032 3 0.18 2.13e-5
19.32 0.003 3 0.18 2.13e-5
19.34 0.0029 3 0.18 2.13e-5
nan nan nan nan nan
20 2.3 3.7 2.3 2.1e-5
}\Pc

% panel 3 (x A S TA T)
\pgfplotstableread{
x A S TA T
50 0.013 0.29 0.016 1e-6
50.04 0.028 0.29 0.032 1e-6
50.08 0.013 0.29 0.016 1e-6
50.12 0.0055 0.29 0.0065 1e-6
50.16 0.006 0.29 0.0078 1e-6
50.2 0.0075 0.29 0.0092 1e-6
50.24 0.0045 0.29 0.0055 1e-6
50.28 0.0025 0.29 0.0038 1e-6
50.32 0.0028 0.29 0.0034 1e-6
50.36 0.0022 0.29 0.0028 1e-6
50.4 0.0045 0.29 0.0055 1e-6
50.44 0.0044 0.29 0.0058 1e-6
50.48 0.0038 0.29 0.005 1e-6
50.52 0.0042 0.29 0.0058 1e-6
50.56 0.0025 0.29 0.004 1e-6
50.6 0.003 0.29 0.0042 1e-6
50.64 0.0014 0.29 0.0035 1e-6
50.68 0.0012 0.29 0.0024 1e-6
50.72 0.0013 0.29 0.0025 1e-6
50.76 0.0032 0.29 0.0045 1e-6
50.8 0.0036 0.29 0.005 1e-6
50.84 0.0014 0.29 0.0055 1e-6
50.88 0.0045 0.29 0.006 1e-6
50.92 0.0034 0.29 0.0045 1e-6
50.96 0.0011 0.29 0.0018 1e-6
nan nan nan nan nan
51 0.02 0.29 0.024 1e-6
51.04 0.036 0.29 0.042 1e-6
51.08 0.013 0.29 0.015 1e-6
51.12 0.007 0.29 0.0083 1e-6
51.16 0.006 0.29 0.0074 1e-6
51.2 0.0052 0.29 0.0068 1e-6
51.24 0.004 0.29 0.0055 1e-6
51.28 0.0013 0.29 0.0034 1e-6
51.32 0.002 0.29 0.0025 1e-6
51.36 0.0012 0.29 0.0018 1e-6
51.4 0.0028 0.29 0.0035 1e-6
51.44 0.0016 0.29 0.004 1e-6
51.48 0.0035 0.29 0.0045 1e-6
51.52 0.0045 0.29 0.0058 1e-6
51.56 0.003 0.29 0.004 1e-6
51.6 0.0022 0.29 0.003 1e-6
51.64 0.0008 0.29 0.0022 1e-6
51.68 0.0028 0.29 0.0038 1e-6
51.72 0.0012 0.29 0.0022 1e-6
51.76 0.0022 0.29 0.003 1e-6
51.8 0.0025 0.29 0.0033 1e-6
51.84 0.0009 0.29 0.0022 1e-6
51.88 0.0042 0.29 0.0055 1e-6
51.92 0.0045 0.29 0.0058 1e-6
51.96 0.0018 0.29 0.0033 1e-6
nan nan nan nan nan
52 0.016 0.29 0.018 1e-6
52.04 0.038 0.29 0.044 1e-6
52.08 0.012 0.29 0.014 1e-6
52.12 0.0075 0.29 0.009 1e-6
52.16 0.0068 0.29 0.008 1e-6
52.2 0.0055 0.29 0.0065 1e-6
52.24 0.004 0.29 0.005 1e-6
52.28 0.0024 0.29 0.0038 1e-6
52.32 0.0045 0.29 0.0055 1e-6
52.36 0.0055 0.29 0.007 1e-6
52.4 0.0065 0.29 0.008 1e-6
52.44 0.0036 0.29 0.0046 1e-6
52.48 0.003 0.29 0.004 1e-6
52.52 0.0034 0.29 0.0045 1e-6
52.56 0.0028 0.29 0.0038 1e-6
52.6 0.0024 0.29 0.0035 1e-6
52.64 0.002 0.29 0.0028 1e-6
52.68 0.0015 0.29 0.0025 1e-6
52.72 0.0042 0.29 0.0055 1e-6
52.76 0.003 0.29 0.004 1e-6
52.8 0.0013 0.29 0.0022 1e-6
52.84 0.0032 0.29 0.0042 1e-6
52.88 0.0025 0.29 0.0035 1e-6
52.92 0.0007 0.29 0.001 1e-6
52.96 0.002 0.29 0.0028 1e-6
nan nan nan nan nan
53 0.02 0.29 0.024 1e-6
53.04 0.035 0.29 0.04 1e-6
53.08 0.015 0.29 0.017 1e-6
53.12 0.0085 0.29 0.01 1e-6
53.16 0.007 0.29 0.0085 1e-6
53.2 0.006 0.29 0.0075 1e-6
53.24 0.0045 0.29 0.0055 1e-6
53.28 0.0032 0.29 0.004 1e-6
53.32 0.0026 0.29 0.0035 1e-6
53.36 0.0015 0.29 0.003 1e-6
53.4 0.0044 0.29 0.0055 1e-6
53.44 0.0055 0.29 0.007 1e-6
53.48 0.0038 0.29 0.005 1e-6
53.52 0.0026 0.29 0.0035 1e-6
53.56 0.0016 0.29 0.003 1e-6
53.6 0.0028 0.29 0.0038 1e-6
53.64 0.0032 0.29 0.0042 1e-6
53.68 0.0018 0.29 0.0028 1e-6
53.72 0.0026 0.29 0.0035 1e-6
53.76 0.0011 0.29 0.0016 1e-6
53.8 0.0038 0.29 0.005 1e-6
53.84 0.0046 0.29 0.006 1e-6
53.88 0.003 0.29 0.004 1e-6
53.92 0.0036 0.29 0.0048 1e-6
53.96 0.0016 0.29 0.0032 1e-6
nan nan nan nan nan
54 0.018 0.29 0.021 1e-6
54.04 0.034 0.29 0.04 1e-6
54.08 0.013 0.29 0.015 1e-6
54.12 0.0075 0.29 0.009 1e-6
54.16 0.0085 0.29 0.01 1e-6
54.2 0.009 0.29 0.011 1e-6
54.24 0.0045 0.29 0.0055 1e-6
54.28 0.0032 0.29 0.0042 1e-6
54.32 0.0018 0.29 0.0035 1e-6
54.36 0.0035 0.29 0.0045 1e-6
54.4 0.0048 0.29 0.006 1e-6
54.44 0.0042 0.29 0.0055 1e-6
54.48 0.0034 0.29 0.0045 1e-6
54.52 0.005 0.29 0.0062 1e-6
54.56 0.003 0.29 0.004 1e-6
54.6 0.0018 0.29 0.003 1e-6
54.64 0.0034 0.29 0.0045 1e-6
54.68 0.0006 0.29 0.0012 1e-6
54.72 0.0005 0.29 0.0014 1e-6
54.76 0.0014 0.29 0.002 1e-6
54.8 0.0026 0.29 0.0035 1e-6
54.84 0.003 0.29 0.0038 1e-6
54.88 0.0038 0.29 0.005 1e-6
54.92 0.003 0.29 0.004 1e-6
54.96 0.0011 0.29 0.0018 1e-6
nan nan nan nan nan
55 0.012 0.29 0.014 1e-6
}\Pd

\pgfplotsset{
  legend image code/.code={\draw[#1, mark repeat=2, mark phase=2]
      plot coordinates {(0pt,0pt) (13.2pt,0pt) (26.4pt,0pt)};},
  every axis/.append style={
    scale only axis, width=236pt, height=106.1pt,
    clip=false, unbounded coords=jump,
    grid=major,
    major grid style={black, line width=0.4pt, dash pattern=on 0.6pt off 1.6pt},
    tick align=inside,
    major tick length=3.6pt, minor tick length=1.9pt,
    axis line style={black, line width=0.6pt},
    xticklabel style={anchor=base, yshift=-12.5pt},
    yticklabel style={anchor=base east, xshift=-3.3pt, yshift=-3.2pt},
    xlabel style={at={(axis description cs:0.5,0)}, anchor=base, yshift=-26.1pt},
    ylabel style={at={(axis description cs:-0.162,0.5)}, rotate=0, anchor=center},
    legend columns=4, legend plot pos=right,
    legend style={at={(0.5,1)}, anchor=south, yshift=6.3pt, xshift=-2.8pt,
      draw=none, fill=none, inner sep=0pt, column sep=7pt,
      nodes={inner sep=0pt}},
  },
}
\tikzset{
  sA/.style={cA, line width=0.6pt, mark=+, mark size=1.6pt, mark options={solid}},
  sSA/.style={cSA, line width=0.6pt, mark=gpx, mark size=1.8pt, mark options={solid}},
  sTA/.style={cTA, line width=0.6pt, mark=gpstar, mark size=2.05pt, mark options={solid}},
  sT/.style={cT, line width=0.6pt, mark=square, mark size=2pt, mark options={solid}},
  qA/.style={cA, line width=0.7pt, mark=+, mark size=1.8pt, mark options={solid}},
  qSA/.style={cSA, line width=0.7pt, mark=gpx, mark size=1.8pt, mark options={solid}},
  qTA/.style={cTA, line width=0.7pt, mark=gpstar, mark size=2.05pt, mark options={solid}},
  qT/.style={cT, line width=0.7pt, mark=square, mark size=2.1pt, mark options={solid}},
}
\newcommand{\lgA}{\makebox[20.4pt][r]{$\eta^{m}_{A}$}}
\newcommand{\lgSA}{\makebox[20.4pt][r]{$\eta^{m}_{SA}$}}
\newcommand{\lgTA}{\makebox[20.4pt][r]{$\eta^{m}_{TA}$}}
\newcommand{\lgT}{\makebox[20.4pt][r]{$\tau_{m}$}}

\begin{document}
\begin{tikzpicture}
\useasboundingbox (0,0) rectangle (291pt,-464.5pt);
% ---------- panel 1 ----------
\begin{axis}[at={(44.62pt,-17.08pt)}, anchor=north west, ymode=log,
  xlabel={time iterations}, ylabel={estimators and time step size},
  xmin=0, xmax=100, xtick={0,20,40,60,80,100},
  ymin=1e-6, ymax=100,
  ytick={1e-6,1e-5,1e-4,1e-3,1e-2,1e-1,1,10,100}]
\addplot[qA] table[x=x,y=A] {\Pa}; \addlegendentry{\lgA}
\addplot[qSA] table[x=x,y=S] {\Pb}; \addlegendentry{\lgSA}
\addplot[qTA] table[x=x,y=TA] {\Pa}; \addlegendentry{\lgTA}
\addplot[qT] table[x=x,y=T] {\Pb}; \addlegendentry{\lgT}
\end{axis}
% ---------- panel 2 ----------
\begin{axis}[at={(44.62pt,-173.8pt)}, anchor=north west, ymode=log,
  xlabel={time iterations}, ylabel={estimators and time step size},
  xmin=15, xmax=20, xtick={15,16,17,18,19,20},
  ymin=1e-5, ymax=10,
  ytick={1e-5,1e-4,1e-3,1e-2,1e-1,1,10}]
\addplot[sA] table[x=x,y=A] {\Pc}; \addlegendentry{\lgA}
\addplot[sSA] table[x=x,y=S] {\Pc}; \addlegendentry{\lgSA}
\addplot[sTA] table[x=x,y=TA] {\Pc}; \addlegendentry{\lgTA}
\addplot[sT] table[x=x,y=T] {\Pc}; \addlegendentry{\lgT}
\end{axis}
% ---------- panel 3 ----------
\begin{axis}[at={(44.62pt,-330.1pt)}, anchor=north west, ymode=log,
  xlabel={time iterations}, ylabel={estimators and time step size},
  xmin=50, xmax=55, xtick={50,51,52,53,54,55},
  ymin=1e-6, ymax=1,
  ytick={1e-6,1e-5,1e-4,1e-3,1e-2,1e-1,1}]
\addplot[sA] table[x=x,y=A] {\Pd}; \addlegendentry{\lgA}
\addplot[sSA] table[x=x,y=S] {\Pd}; \addlegendentry{\lgSA}
\addplot[sTA] table[x=x,y=TA] {\Pd}; \addlegendentry{\lgTA}
\addplot[sT] table[x=x,y=T] {\Pd}; \addlegendentry{\lgT}
\end{axis}
\end{tikzpicture}
\end{document}
